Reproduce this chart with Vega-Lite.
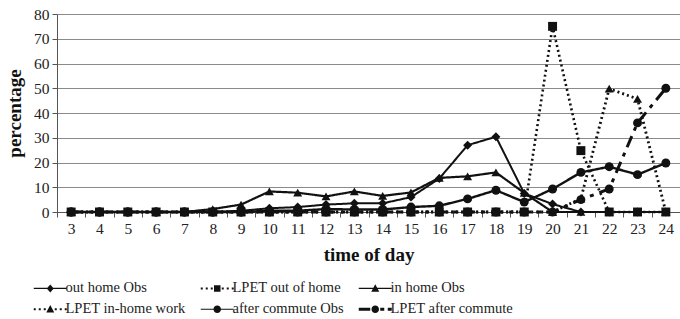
{
  "$schema": "https://vega.github.io/schema/vega-lite/v6.json",
  "width": 623,
  "height": 198,
  "autosize": {"type": "none"},
  "padding": {"left": 57, "top": 14, "right": 0, "bottom": 107},
  "background": "white",
  "config": {
    "view": {"stroke": null},
    "font": "Liberation Serif",
    "axis": {"labelFont": "Liberation Serif", "titleFont": "Liberation Serif", "labelColor": "#222", "titleColor": "#111", "domainColor": "#555", "tickColor": "#555"},
    "legend": {"labelFont": "Liberation Serif", "labelColor": "#222"}
  },
  "data": {
    "values": [
      {"h":3,"s":"out home Obs","v":0},{"h":4,"s":"out home Obs","v":0},{"h":5,"s":"out home Obs","v":0},{"h":6,"s":"out home Obs","v":0},{"h":7,"s":"out home Obs","v":0},{"h":8,"s":"out home Obs","v":0},{"h":9,"s":"out home Obs","v":0.5},{"h":10,"s":"out home Obs","v":1.5},{"h":11,"s":"out home Obs","v":2},{"h":12,"s":"out home Obs","v":3},{"h":13,"s":"out home Obs","v":3.5},{"h":14,"s":"out home Obs","v":3.5},{"h":15,"s":"out home Obs","v":6},{"h":16,"s":"out home Obs","v":13.5},{"h":17,"s":"out home Obs","v":27},{"h":18,"s":"out home Obs","v":30.4},{"h":19,"s":"out home Obs","v":7.5},{"h":20,"s":"out home Obs","v":3.2},{"h":21,"s":"out home Obs","v":0},{"h":22,"s":"out home Obs","v":0},{"h":23,"s":"out home Obs","v":0},{"h":24,"s":"out home Obs","v":0},
      {"h":3,"s":"LPET out of home","v":0},{"h":4,"s":"LPET out of home","v":0},{"h":5,"s":"LPET out of home","v":0},{"h":6,"s":"LPET out of home","v":0},{"h":7,"s":"LPET out of home","v":0},{"h":8,"s":"LPET out of home","v":0},{"h":9,"s":"LPET out of home","v":0},{"h":10,"s":"LPET out of home","v":0},{"h":11,"s":"LPET out of home","v":0},{"h":12,"s":"LPET out of home","v":0},{"h":13,"s":"LPET out of home","v":0},{"h":14,"s":"LPET out of home","v":0},{"h":15,"s":"LPET out of home","v":0},{"h":16,"s":"LPET out of home","v":0},{"h":17,"s":"LPET out of home","v":0},{"h":18,"s":"LPET out of home","v":0},{"h":19,"s":"LPET out of home","v":0},{"h":20,"s":"LPET out of home","v":75},{"h":21,"s":"LPET out of home","v":24.8},{"h":22,"s":"LPET out of home","v":0},{"h":23,"s":"LPET out of home","v":0},{"h":24,"s":"LPET out of home","v":0},
      {"h":3,"s":"in home Obs","v":0},{"h":4,"s":"in home Obs","v":0},{"h":5,"s":"in home Obs","v":0},{"h":6,"s":"in home Obs","v":0},{"h":7,"s":"in home Obs","v":0},{"h":8,"s":"in home Obs","v":1.2},{"h":9,"s":"in home Obs","v":3},{"h":10,"s":"in home Obs","v":8.3},{"h":11,"s":"in home Obs","v":7.8},{"h":12,"s":"in home Obs","v":6.3},{"h":13,"s":"in home Obs","v":8.3},{"h":14,"s":"in home Obs","v":6.5},{"h":15,"s":"in home Obs","v":7.9},{"h":16,"s":"in home Obs","v":13.8},{"h":17,"s":"in home Obs","v":14.4},{"h":18,"s":"in home Obs","v":16},{"h":19,"s":"in home Obs","v":7.7},{"h":20,"s":"in home Obs","v":0},{"h":21,"s":"in home Obs","v":0},{"h":22,"s":"in home Obs","v":0},{"h":23,"s":"in home Obs","v":0},{"h":24,"s":"in home Obs","v":0},
      {"h":3,"s":"LPET in-home work","v":0},{"h":4,"s":"LPET in-home work","v":0},{"h":5,"s":"LPET in-home work","v":0},{"h":6,"s":"LPET in-home work","v":0},{"h":7,"s":"LPET in-home work","v":0},{"h":8,"s":"LPET in-home work","v":0},{"h":9,"s":"LPET in-home work","v":0},{"h":10,"s":"LPET in-home work","v":0},{"h":11,"s":"LPET in-home work","v":0},{"h":12,"s":"LPET in-home work","v":0},{"h":13,"s":"LPET in-home work","v":0},{"h":14,"s":"LPET in-home work","v":0},{"h":15,"s":"LPET in-home work","v":0},{"h":16,"s":"LPET in-home work","v":0},{"h":17,"s":"LPET in-home work","v":0},{"h":18,"s":"LPET in-home work","v":0},{"h":19,"s":"LPET in-home work","v":0},{"h":20,"s":"LPET in-home work","v":0},{"h":21,"s":"LPET in-home work","v":5.4},{"h":22,"s":"LPET in-home work","v":49.8},{"h":23,"s":"LPET in-home work","v":45.7},{"h":24,"s":"LPET in-home work","v":0},
      {"h":3,"s":"after commute Obs","v":0},{"h":4,"s":"after commute Obs","v":0},{"h":5,"s":"after commute Obs","v":0},{"h":6,"s":"after commute Obs","v":0},{"h":7,"s":"after commute Obs","v":0},{"h":8,"s":"after commute Obs","v":0},{"h":9,"s":"after commute Obs","v":0},{"h":10,"s":"after commute Obs","v":0.5},{"h":11,"s":"after commute Obs","v":0.5},{"h":12,"s":"after commute Obs","v":1.2},{"h":13,"s":"after commute Obs","v":1},{"h":14,"s":"after commute Obs","v":1},{"h":15,"s":"after commute Obs","v":2},{"h":16,"s":"after commute Obs","v":2.5},{"h":17,"s":"after commute Obs","v":5.3},{"h":18,"s":"after commute Obs","v":8.8},{"h":19,"s":"after commute Obs","v":4},{"h":20,"s":"after commute Obs","v":9.3},{"h":21,"s":"after commute Obs","v":16},{"h":22,"s":"after commute Obs","v":18.3},{"h":23,"s":"after commute Obs","v":15.1},{"h":24,"s":"after commute Obs","v":19.8},
      {"h":3,"s":"LPET after commute","v":0},{"h":4,"s":"LPET after commute","v":0},{"h":5,"s":"LPET after commute","v":0},{"h":6,"s":"LPET after commute","v":0},{"h":7,"s":"LPET after commute","v":0},{"h":8,"s":"LPET after commute","v":0},{"h":9,"s":"LPET after commute","v":0},{"h":10,"s":"LPET after commute","v":0},{"h":11,"s":"LPET after commute","v":0},{"h":12,"s":"LPET after commute","v":0},{"h":13,"s":"LPET after commute","v":0},{"h":14,"s":"LPET after commute","v":0},{"h":15,"s":"LPET after commute","v":0},{"h":16,"s":"LPET after commute","v":0},{"h":17,"s":"LPET after commute","v":0},{"h":18,"s":"LPET after commute","v":0},{"h":19,"s":"LPET after commute","v":0},{"h":20,"s":"LPET after commute","v":0},{"h":21,"s":"LPET after commute","v":5},{"h":22,"s":"LPET after commute","v":9.3},{"h":23,"s":"LPET after commute","v":36},{"h":24,"s":"LPET after commute","v":50}
    ]
  },
  "encoding": {
    "x": {
      "field": "h", "type": "ordinal", "bandPosition": 0.5,
      "scale": {"type": "band", "paddingInner": 0, "paddingOuter": 0},
      "axis": {"title": "time of day", "titleFontSize": 19, "titleFontWeight": "bold", "titlePadding": 9, "labelFontSize": 15.5, "labelAngle": 0, "labelPadding": 4, "tickBand": "extent", "tickSize": 5, "grid": false}
    },
    "y": {
      "field": "v", "type": "quantitative",
      "scale": {"domain": [0, 80], "nice": false},
      "axis": {"title": "percentage", "titleFontSize": 19, "titleFontWeight": "bold", "titlePadding": 9, "labelFontSize": 15.5, "labelPadding": 3, "values": [0,10,20,30,40,50,60,70,80], "tickSize": 5, "grid": true, "gridColor": "#8a8a8a", "gridWidth": 1.2}
    }
  },
  "layer": [
    {
      "mark": {"type": "line", "color": "#111"},
      "encoding": {
        "detail": {"field": "s"},
        "strokeDash": {
          "field": "s", "type": "nominal", "legend": null,
          "scale": {"range": [[12,6,4,6],[2,3],[2,3],[1,0],[1,0],[1,0]]}
        },
        "strokeWidth": {
          "field": "s", "type": "nominal", "legend": null,
          "scale": {"range": [3,2,2,1.2,1.2,1.2]}
        }
      }
    },
    {
      "mark": {"type": "point", "filled": true, "color": "#111", "size": 80},
      "encoding": {
        "shape": {
          "field": "s", "type": "nominal", "legend": null,
          "scale": {"range": ["circle","triangle-up","square","circle","triangle-up","diamond"]}
        },
        "opacity": {
          "field": "s", "type": "nominal",
          "scale": {"domain": ["out home Obs","LPET out of home","in home Obs","LPET in-home work","after commute Obs","LPET after commute"], "range": [1,1,1,1,1,1]},
          "legend": {
            "title": null, "orient": "none", "legendX": -25, "legendY": 267, "columns": 3, "direction": "horizontal",
            "labelFontSize": 14.5, "symbolSize": 100, "symbolOffset": 11, "labelOffset": 8, "columnPadding": 13, "rowPadding": 6, "padding": 0,
            "symbolFillColor": "#111", "symbolStrokeColor": "#111", "symbolStrokeWidth": 0,
            "symbolType": {"expr": "datum.value === 'out home Obs' ? 'M-3.3,-0.12H3.3V0.12H-3.3ZM0,-0.8L0.7,0L0,0.8L-0.7,0Z' : datum.value === 'LPET out of home' ? 'M-3.3,-0.2H-2.9V0.2H-3.3ZM-2.3,-0.2H-1.9V0.2H-2.3ZM-1.3,-0.2H-0.9V0.2H-1.3ZM0.9,-0.2H1.3V0.2H0.9ZM1.9,-0.2H2.3V0.2H1.9ZM2.9,-0.2H3.3V0.2H2.9ZM-0.65,-0.65H0.65V0.65H-0.65Z' : datum.value === 'in home Obs' ? 'M-3.3,-0.12H3.3V0.12H-3.3ZM0,-0.85L0.8,0.65L-0.8,0.65Z' : datum.value === 'LPET in-home work' ? 'M-3.3,-0.2H-2.9V0.2H-3.3ZM-2.3,-0.2H-1.9V0.2H-2.3ZM-1.3,-0.2H-0.9V0.2H-1.3ZM0.9,-0.2H1.3V0.2H0.9ZM1.9,-0.2H2.3V0.2H1.9ZM2.9,-0.2H3.3V0.2H2.9ZM0,-0.85L0.8,0.65L-0.8,0.65Z' : datum.value === 'after commute Obs' ? 'M-3.3,-0.12H3.3V0.12H-3.3ZM0.75,0A0.75,0.75,0,1,1,-0.75,0A0.75,0.75,0,1,1,0.75,0Z' : 'M-3.3,-0.3H-1.0V0.3H-3.3ZM1.0,-0.3H1.8V0.3H1.0ZM2.5,-0.3H3.3V0.3H2.5ZM0.75,0A0.75,0.75,0,1,1,-0.75,0A0.75,0.75,0,1,1,0.75,0Z'"},
            "encode": {
              "symbols": {
                "fill": {"value": "#111"}
              }
            }
          }
        }
      }
    }
  ]
}
